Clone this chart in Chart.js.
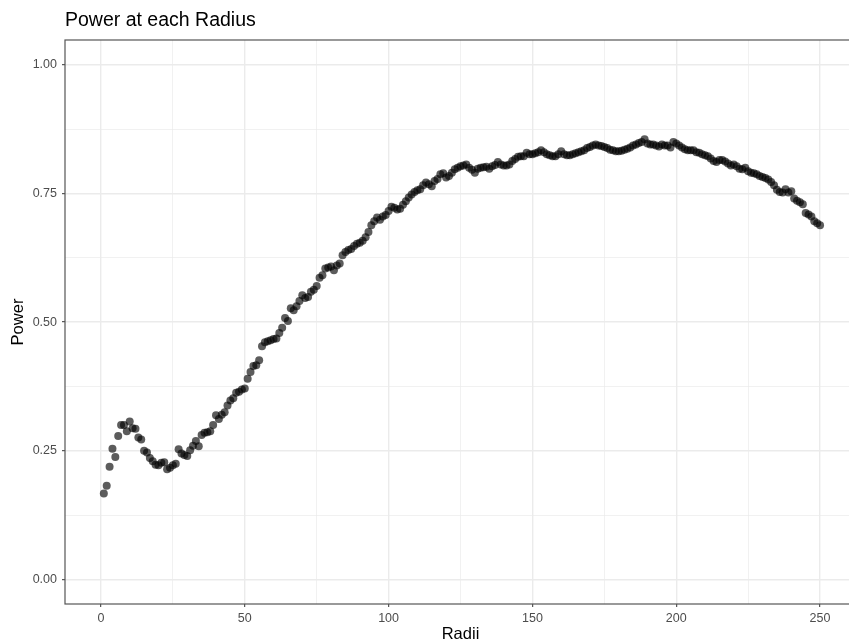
<!DOCTYPE html>
<html>
<head>
<meta charset="utf-8">
<title>Power at each Radius</title>
<script src="https://cdn.jsdelivr.net/npm/chart.js@4.4.1/dist/chart.umd.min.js"></script>
<style>
  html, body { margin: 0; padding: 0; background: #ffffff; overflow: hidden; }
  #wrap { width: 849px; height: 643px; overflow: hidden; }
</style>
</head>
<body>
<div id="wrap">
  <canvas id="powerChart" width="860" height="643"></canvas>
</div>
<script>
// Data
const radii = [
  1, 2, 3, 4, 5, 6, 7, 8, 9, 10, 11, 12, 13, 14, 15, 16, 17, 18, 19, 20, 21, 22, 23, 24, 25,
  26, 27, 28, 29, 30, 31, 32, 33, 34, 35, 36, 37, 38, 39, 40, 41, 42, 43, 44, 45, 46, 47, 48, 49, 50,
  51, 52, 53, 54, 55, 56, 57, 58, 59, 60, 61, 62, 63, 64, 65, 66, 67, 68, 69, 70, 71, 72, 73, 74, 75,
  76, 77, 78, 79, 80, 81, 82, 83, 84, 85, 86, 87, 88, 89, 90, 91, 92, 93, 94, 95, 96, 97, 98, 99, 100,
  101, 102, 103, 104, 105, 106, 107, 108, 109, 110, 111, 112, 113, 114, 115, 116, 117, 118, 119, 120, 121, 122, 123, 124, 125,
  126, 127, 128, 129, 130, 131, 132, 133, 134, 135, 136, 137, 138, 139, 140, 141, 142, 143, 144, 145, 146, 147, 148, 149, 150,
  151, 152, 153, 154, 155, 156, 157, 158, 159, 160, 161, 162, 163, 164, 165, 166, 167, 168, 169, 170, 171, 172, 173, 174, 175,
  176, 177, 178, 179, 180, 181, 182, 183, 184, 185, 186, 187, 188, 189, 190, 191, 192, 193, 194, 195, 196, 197, 198, 199, 200,
  201, 202, 203, 204, 205, 206, 207, 208, 209, 210, 211, 212, 213, 214, 215, 216, 217, 218, 219, 220, 221, 222, 223, 224, 225,
  226, 227, 228, 229, 230, 231, 232, 233, 234, 235, 236, 237, 238, 239, 240, 241, 242, 243, 244, 245, 246, 247, 248, 249, 250
];

const power = [
  0.167, 0.182, 0.219, 0.254, 0.238, 0.279, 0.300, 0.300, 0.288, 0.307, 0.294, 0.293, 0.276, 0.272, 0.250, 0.247, 0.236, 0.230, 0.223, 0.222, 0.227, 0.228, 0.214, 0.217, 0.222,
  0.225, 0.253, 0.245, 0.242, 0.240, 0.251, 0.260, 0.269, 0.259, 0.281, 0.285, 0.286, 0.288, 0.300, 0.319, 0.312, 0.320, 0.325, 0.338, 0.348, 0.352, 0.363, 0.365, 0.369, 0.371,
  0.390, 0.403, 0.415, 0.416, 0.426, 0.453, 0.461, 0.463, 0.465, 0.467, 0.468, 0.479, 0.489, 0.508, 0.502, 0.527, 0.523, 0.531, 0.541, 0.552, 0.547, 0.549, 0.559, 0.563, 0.570,
  0.586, 0.591, 0.604, 0.606, 0.608, 0.601, 0.610, 0.614, 0.630, 0.636, 0.640, 0.642, 0.648, 0.652, 0.654, 0.658, 0.665, 0.675, 0.688, 0.696, 0.703, 0.699, 0.705, 0.708, 0.716,
  0.724, 0.722, 0.719, 0.720, 0.728, 0.735, 0.742, 0.748, 0.753, 0.756, 0.758, 0.766, 0.771, 0.768, 0.764, 0.774, 0.778, 0.787, 0.789, 0.781, 0.784, 0.790, 0.797, 0.800, 0.803,
  0.804, 0.806, 0.800, 0.796, 0.790, 0.798, 0.800, 0.801, 0.802, 0.798, 0.803, 0.805, 0.811, 0.806, 0.804, 0.804, 0.806, 0.813, 0.817, 0.821, 0.822, 0.822, 0.829, 0.826, 0.826,
  0.828, 0.830, 0.834, 0.830, 0.826, 0.824, 0.822, 0.822, 0.826, 0.832, 0.826, 0.824, 0.824, 0.826, 0.828, 0.830, 0.832, 0.834, 0.838, 0.840, 0.843, 0.845, 0.843, 0.842, 0.840,
  0.838, 0.835, 0.834, 0.832, 0.832, 0.833, 0.835, 0.837, 0.839, 0.843, 0.845, 0.848, 0.850, 0.855, 0.847, 0.845, 0.845, 0.843, 0.841, 0.845, 0.843, 0.843, 0.839, 0.850, 0.847,
  0.843, 0.839, 0.836, 0.834, 0.834, 0.834, 0.830, 0.829, 0.826, 0.824, 0.822, 0.818, 0.813, 0.811, 0.815, 0.815, 0.812, 0.808, 0.804, 0.806, 0.803, 0.798, 0.797, 0.800, 0.793,
  0.790, 0.789, 0.787, 0.784, 0.782, 0.780, 0.777, 0.772, 0.766, 0.757, 0.753, 0.752, 0.758, 0.752, 0.754, 0.740, 0.736, 0.733, 0.729, 0.712, 0.709, 0.705, 0.696, 0.692, 0.688
];

// Axis ticks
const xMajorTicks = [0, 50, 100, 150, 200, 250];
const xMinorTicks = [25, 75, 125, 175, 225];
const xTickLabels = ['0', '50', '100', '150', '200', '250'];
const yMajorTicks = [0, 0.25, 0.5, 0.75, 1];
const yMinorTicks = [0.125, 0.375, 0.625, 0.875];
const yTickLabels = ['0.00', '0.25', '0.50', '0.75', '1.00'];

const FONT = "'Liberation Sans', Arial, Helvetica, sans-serif";
const GRID_COLOR = '#ebebeb';
const TICK_COLOR = '#333333';
const LABEL_COLOR = '#4d4d4d';

const points = radii.map((r, i) => ({ x: r, y: power[i] }));

function buildTicks(major, minor) {
    return major.concat(minor).sort((a, b) => a - b).map(v => ({ value: v }));
}

function gridOptions(major) {
    return {
        drawOnChartArea: true,
        drawTicks: true,
        tickLength: 3,
        color: GRID_COLOR,
        lineWidth: (c) => major.includes(c.tick.value) ? 1.4 : 0.7,
        tickColor: (c) => major.includes(c.tick.value) ? TICK_COLOR : 'rgba(0,0,0,0)',
        tickWidth: 1
    };
}

// Panel border drawn over everything (theme_bw)
const panelBorder = {
    id: 'panelBorder',
    afterDatasetsDraw(chart) {
        const { ctx, chartArea } = chart;
        ctx.save();
        ctx.strokeStyle = '#555555';
        ctx.lineWidth = 1.2;
        ctx.strokeRect(chartArea.left, chartArea.top, chartArea.right - chartArea.left, chartArea.bottom - chartArea.top);
        ctx.restore();
    }
};

const ctx = document.getElementById('powerChart').getContext('2d');

new Chart(ctx, {
    type: 'scatter',
    data: {
        datasets: [{
            label: 'Power',
            data: points,
            backgroundColor: 'rgba(0, 0, 0, 0.64)',
            borderWidth: 0,
            pointRadius: 4,
            pointHoverRadius: 4
        }]
    },
    options: {
        responsive: false,
        animation: false,
        layout: { padding: { left: 0, right: 1, top: 0, bottom: 0 } },
        plugins: {
            legend: { display: false },
            tooltip: { enabled: false },
            title: {
                display: true,
                text: 'Power at each Radius',
                align: 'start',
                fullSize: false,
                color: '#000000',
                font: { family: FONT, size: 19.5, weight: 'normal', lineHeight: 1 },
                padding: { top: 11, bottom: 9.5 }
            }
        },
        scales: {
            x: {
                type: 'linear',
                min: -12.5,
                max: 262.5,
                afterBuildTicks: (scale) => { scale.ticks = buildTicks(xMajorTicks, xMinorTicks); },
                afterFit: (scale) => { scale.height = 39; },
                grid: gridOptions(xMajorTicks),
                border: { display: false },
                ticks: {
                    autoSkip: false,
                    maxRotation: 0,
                    padding: 4,
                    color: LABEL_COLOR,
                    font: { family: FONT, size: 12.5 },
                    callback: (value) => {
                        const i = xMajorTicks.indexOf(value);
                        return i >= 0 ? xTickLabels[i] : '';
                    }
                },
                title: {
                    display: true,
                    text: 'Radii',
                    color: '#000000',
                    font: { family: FONT, size: 16.5, lineHeight: 1 },
                    padding: { top: 0, bottom: 0 }
                }
            },
            y: {
                type: 'linear',
                min: -0.0475,
                max: 1.048,
                afterBuildTicks: (scale) => { scale.ticks = buildTicks(yMajorTicks, yMinorTicks); },
                afterFit: (scale) => { scale.width = 65; },
                grid: gridOptions(yMajorTicks),
                border: { display: false },
                ticks: {
                    autoSkip: false,
                    padding: 5,
                    color: LABEL_COLOR,
                    font: { family: FONT, size: 12.5 },
                    callback: (value) => {
                        const i = yMajorTicks.indexOf(value);
                        return i >= 0 ? yTickLabels[i] : '';
                    }
                },
                title: {
                    display: true,
                    text: 'Power',
                    color: '#000000',
                    font: { family: FONT, size: 16.5, lineHeight: 1 },
                    padding: { top: 10.5, bottom: 0 }
                }
            }
        }
    },
    plugins: [panelBorder]
});
</script>
</body>
</html>
